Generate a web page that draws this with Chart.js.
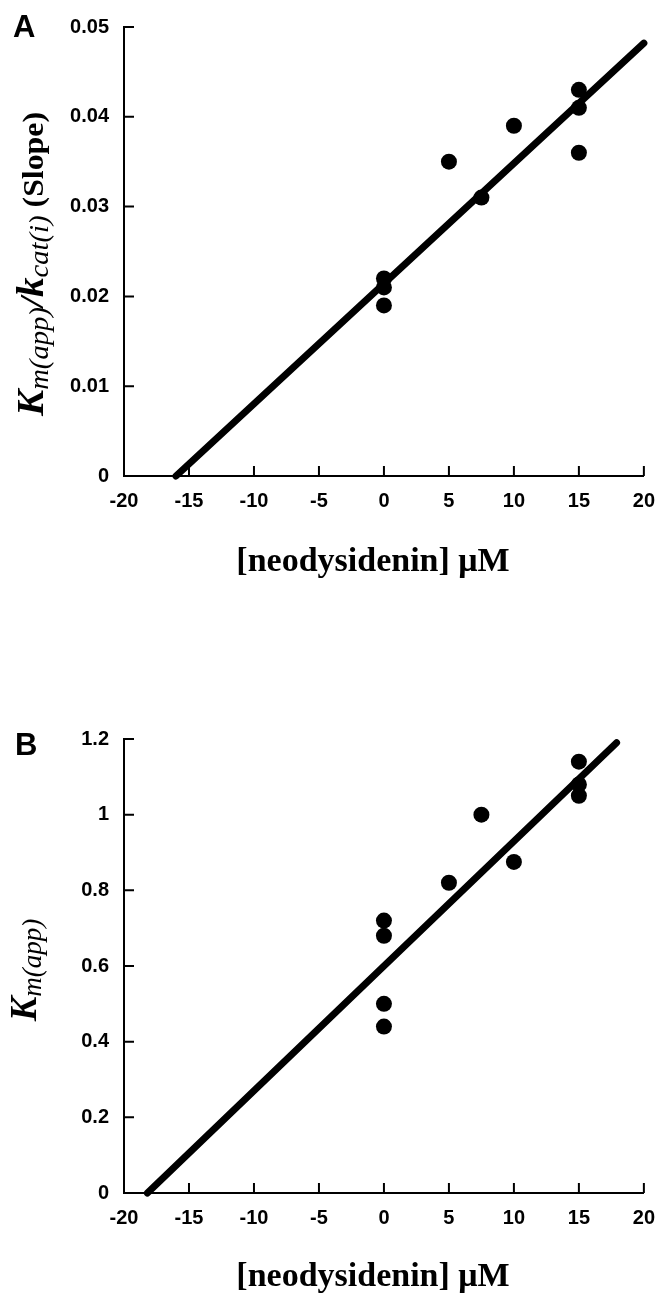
<!DOCTYPE html>
<html>
<head>
<meta charset="utf-8">
<script src="https://cdn.jsdelivr.net/npm/chart.js@4.4.1/dist/chart.umd.min.js"></script>
<style>
  html, body { margin: 0; padding: 0; background: #fff; }
  #wrap { position: relative; width: 668px; height: 1295px; }
  canvas { position: absolute; left: 0; }
</style>
</head>
<body>
<div id="wrap">
  <canvas id="chartA" width="668" height="620" style="top:0"></canvas>
  <canvas id="chartB" width="668" height="675" style="top:620px"></canvas>
</div>
<script>
// **DATOS**
const xTicks = [-20, -15, -10, -5, 0, 5, 10, 15, 20];
const yTicksA = [0, 0.01, 0.02, 0.03, 0.04, 0.05];
const yTicksB = [0, 0.2, 0.4, 0.6, 0.8, 1, 1.2];

// Panel A: Km(app)/kcat(i) (pendiente) frente a [neodysidenin]
const concA = [0, 0, 0, 5, 7.5, 10, 15, 15, 15];
const slopeA = [0.022, 0.021, 0.019, 0.035, 0.031, 0.039, 0.043, 0.041, 0.036];
const fitXA = [-16, 20];
const fitYA = [0, 0.0482];

// Panel B: Km(app) frente a [neodysidenin]
const concB = [0, 0, 0, 0, 5, 7.5, 10, 15, 15, 15];
const kmB = [0.72, 0.68, 0.50, 0.44, 0.82, 1.0, 0.875, 1.14, 1.08, 1.05];
const fitXB = [-18.2, 17.9];
const fitYB = [0, 1.19];

const SERIF = "'Liberation Serif', 'Times New Roman', serif";
const SANS = "'Liberation Sans', Arial, sans-serif";

// **UTILIDADES**
function toPoints(xs, ys) {
	return xs.map((x, i) => ({ x, y: ys[i] }));
}

// Texto con segmentos de distinta fuente (para subíndices)
function drawRichVertical(ctx, segs, cx, cy, target) {
	ctx.save();
	let w = 0;
	segs.forEach(s => { ctx.font = s.font; w += ctx.measureText(s.text).width; });
	const k = target ? target / w : 1;
	ctx.translate(cx, cy);
	ctx.rotate(-Math.PI / 2);
	ctx.scale(k, 1);
	ctx.fillStyle = '#000';
	ctx.textBaseline = 'alphabetic';
	ctx.textAlign = 'left';
	let x = -w / 2;
	segs.forEach(s => {
		ctx.font = s.font;
		ctx.fillText(s.text, x, s.dy || 0);
		x += ctx.measureText(s.text).width;
	});
	ctx.restore();
}

// Marcas hacia dentro, títulos y letra del panel
function decorPlugin(cfg) {
	return {
		id: 'decor' + cfg.letter,
		afterDraw(chart) {
			const ctx = chart.ctx;
			const xs = chart.scales.x, ys = chart.scales.y;
			const { left, bottom } = chart.chartArea;
			ctx.save();
			ctx.strokeStyle = '#000';
			ctx.lineWidth = 2;
			ctx.beginPath();
			xs.ticks.forEach(t => {
				const px = xs.getPixelForValue(t.value);
				ctx.moveTo(px, bottom);
				ctx.lineTo(px, bottom - 10);
			});
			ys.ticks.forEach(t => {
				const py = ys.getPixelForValue(t.value);
				ctx.moveTo(left, py);
				ctx.lineTo(left + 10, py);
			});
			ctx.stroke();

			ctx.fillStyle = '#000';
			ctx.font = 'bold 31px ' + SANS;
			ctx.textAlign = 'left';
			ctx.textBaseline = 'alphabetic';
			ctx.fillText(cfg.letter, cfg.letterX, cfg.letterY);

			ctx.font = 'bold 34px ' + SERIF;
			ctx.textAlign = 'center';
			ctx.fillText('[neodysidenin] \u03BCM', 373, cfg.xTitleY);
			ctx.restore();

			drawRichVertical(ctx, cfg.yTitle, cfg.yTitleX, cfg.yTitleY, cfg.yTitleLen);
		}
	};
}

function createPanel(id, cfg) {
	new Chart(document.getElementById(id), {
		type: 'scatter',
		data: {
			datasets: [{
				data: toPoints(cfg.xs, cfg.ys),
				backgroundColor: '#000',
				borderWidth: 0,
				pointRadius: 8,
				clip: false,
			}, {
				type: 'line',
				data: toPoints(cfg.fitX, cfg.fitY),
				borderColor: '#000',
				borderWidth: 7,
				borderCapStyle: 'round',
				pointRadius: 0,
				fill: false,
				clip: false,
			}],
		},
		options: {
			responsive: false,
			animation: false,
			layout: { padding: { top: cfg.top, right: 17, left: 0, bottom: 0 } },
			plugins: { legend: { display: false }, tooltip: { enabled: false } },
			scales: {
				x: {
					type: 'linear',
					min: -20, max: 20,
					afterBuildTicks: s => { s.ticks = xTicks.map(v => ({ value: v })); },
					afterFit: s => { s.height = cfg.xHeight; },
					grid: { drawOnChartArea: false, drawTicks: false },
					border: { display: true, color: '#000', width: 2 },
					ticks: { color: '#000', padding: 13, maxRotation: 0, font: { family: SANS, size: 20, weight: 'bold' }, callback: v => String(v) },
				},
				y: {
					type: 'linear',
					min: 0, max: cfg.yMax,
					afterBuildTicks: s => { s.ticks = cfg.yTicks.map(v => ({ value: v })); },
					afterFit: s => { s.width = 124; },
					grid: { drawOnChartArea: false, drawTicks: false },
					border: { display: true, color: '#000', width: 2 },
					ticks: { color: '#000', padding: 15, font: { family: SANS, size: 20, weight: 'bold' }, callback: v => String(v) },
				},
			},
		},
		plugins: [decorPlugin(cfg)],
	});
}

// **INICIALIZACIÓN**
createPanel('chartA', {
	letter: 'A', letterX: 13, letterY: 37,
	xs: concA, ys: slopeA, fitX: fitXA, fitY: fitYA,
	yTicks: yTicksA, yMax: 0.05,
	top: 22, xHeight: 620 - 476,
	xTitleY: 571,
	yTitleX: 43, yTitleY: 264, yTitleLen: 304,
	yTitle: [
		{ text: 'K', font: 'italic bold 37px ' + SERIF },
		{ text: 'm(app)', font: 'italic 27px ' + SERIF, dy: 5 },
		{ text: '/', font: 'italic bold 34px ' + SERIF },
		{ text: 'k', font: 'italic bold 37px ' + SERIF },
		{ text: 'cat(i)', font: 'italic 27px ' + SERIF, dy: 5 },
		{ text: ' (Slope)', font: 'bold 30px ' + SERIF },
	],
});

createPanel('chartB', {
	letter: 'B', letterX: 15, letterY: 135,
	xs: concB, ys: kmB, fitX: fitXB, fitY: fitYB,
	yTicks: yTicksB, yMax: 1.2,
	top: 119, xHeight: 675 - 573,
	xTitleY: 666,
	yTitleX: 36, yTitleY: 350, yTitleLen: 0,
	yTitle: [
		{ text: 'K', font: 'italic bold 37px ' + SERIF },
		{ text: 'm(app)', font: 'italic 27px ' + SERIF, dy: 5 },
	],
});
</script>
</body>
</html>
